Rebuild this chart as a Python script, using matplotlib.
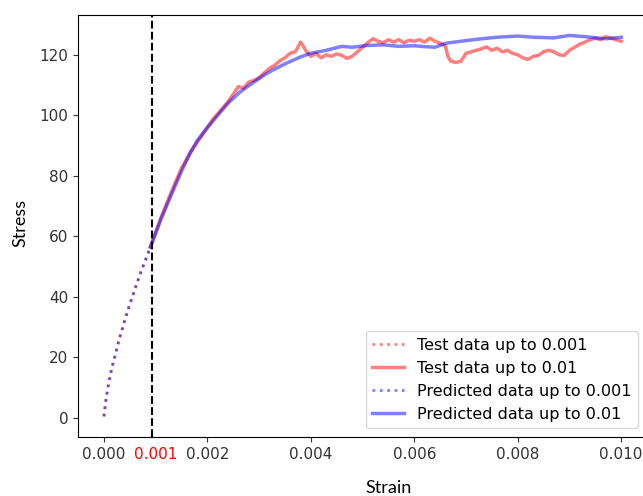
import numpy as np
import matplotlib.pyplot as plt

# dotted part: strain 0 .. 0.001
early_strain = [0, 0.00005, 0.0001, 0.00015, 0.0002, 0.0003, 0.0004, 0.0005,
                0.0006, 0.0007, 0.0008, 0.0009]
early_test = [0.5, 7.5, 12.0, 16.5, 19.5, 26.5, 32.0, 37.5, 42.5, 47.5, 52.0, 56.5]
early_pred = [0.5, 7.0, 12.0, 16.0, 19.5, 26.0, 32.0, 37.5, 42.5, 47.5, 52.0, 56.5]

# solid part: test data up to 0.01
test_strain = [0.0009, 0.0011, 0.0013, 0.0015, 0.0017, 0.0019, 0.0021, 0.0023,
               0.0024, 0.0025, 0.0026, 0.0027, 0.0028, 0.0029, 0.0030, 0.0031,
               0.0032, 0.0033, 0.0034, 0.0035, 0.0036, 0.0037, 0.00375, 0.0038,
               0.00385, 0.0039, 0.00395, 0.0040, 0.0041, 0.0042, 0.0043, 0.0044,
               0.0045, 0.0046, 0.0047, 0.0048, 0.0049, 0.0050, 0.0051, 0.0052,
               0.0053, 0.0054, 0.0055, 0.0056, 0.0057, 0.0058, 0.0059, 0.0060,
               0.0061, 0.0062, 0.0063, 0.0064, 0.0065, 0.0066, 0.00665, 0.0067,
               0.0068, 0.0069, 0.0070, 0.0071, 0.0072, 0.0073, 0.0074, 0.0075,
               0.0076, 0.0077, 0.0078, 0.0079, 0.0080, 0.0081, 0.0082, 0.0083,
               0.0084, 0.0085, 0.0086, 0.0087, 0.0088, 0.0089, 0.0090, 0.0091,
               0.0092, 0.0093, 0.0094, 0.0095, 0.0096, 0.0097, 0.0098, 0.0099,
               0.0100]
test_stress = [56.5, 66.0, 74.5, 82.5, 88.5, 93.5, 98.5, 102.5,
               104.5, 107.0, 109.5, 109.0, 111.0, 111.5, 112.5, 114.0,
               115.5, 116.5, 118.0, 119.0, 120.5, 121.0, 122.5, 124.2,
               123.0, 121.5, 120.5, 119.5, 120.5, 119.0, 120.0, 119.5,
               120.3, 119.8, 118.8, 119.5, 121.0, 122.5, 124.0, 125.3,
               124.5, 124.0, 125.0, 124.2, 125.0, 124.0, 124.8, 124.5,
               125.0, 124.2, 125.5, 124.5, 123.8, 123.0, 119.5, 118.0,
               117.5, 117.8, 120.5, 121.0, 121.5, 122.0, 122.6, 121.5,
               122.2, 121.0, 121.5, 120.5, 120.0, 119.0, 118.5, 119.5,
               119.8, 121.0, 121.5, 121.0, 120.0, 119.8, 121.5, 122.5,
               123.5, 124.2, 125.0, 125.5, 125.0, 126.0, 125.5, 125.0,
               124.5]

# solid part: predicted data up to 0.01
pred_strain = [0.0009, 0.0011, 0.00134, 0.0015, 0.00166, 0.0018, 0.00198, 0.0022,
               0.0024, 0.00263, 0.0029, 0.0031, 0.00327, 0.0035, 0.0038, 0.0040,
               0.0043, 0.0046, 0.0048, 0.0051, 0.0054, 0.0057, 0.0060, 0.0062,
               0.0064, 0.0066, 0.0070, 0.0073, 0.0076, 0.0080, 0.0083, 0.0087,
               0.0090, 0.0093, 0.0097, 0.0100]
pred_stress = [56.5, 65.5, 75.2, 81.5, 87.3, 91.5, 95.5, 100.0,
               104.0, 107.7, 111.0, 113.3, 115.0, 117.0, 119.3, 120.5,
               121.5, 122.8, 122.5, 123.1, 123.3, 122.8, 123.0, 122.7,
               122.5, 123.8, 124.7, 125.3, 125.8, 126.2, 125.8, 125.6,
               126.4, 126.0, 125.3, 125.8]

xticks = [0, 0.002, 0.004, 0.006, 0.008, 0.010]
xtick_labels = ['0.000', '0.002', '0.004', '0.006', '0.008', '0.010']
yticks = [0, 20, 40, 60, 80, 100, 120]
vline_x = 0.00093

fig = plt.figure(figsize=(6.43, 4.96), dpi=100)
ax = fig.add_axes([0.1213, 0.119, 0.885, 0.851])

ax.plot(early_strain, early_test, color='red', alpha=0.5, lw=2, ls=':', label='Test data up to 0.001')
ax.plot(test_strain, test_stress, color='red', alpha=0.5, lw=2.5, label='Test data up to 0.01')
ax.plot(early_strain, early_pred, color='blue', alpha=0.5, lw=2, ls=':', label='Predicted data up to 0.001')
ax.plot(pred_strain, pred_stress, color='blue', alpha=0.5, lw=2.5, label='Predicted data up to 0.01')
ax.axvline(vline_x, color='black', ls='--', lw=1.5)

ax.set_xlim(-0.0005, 0.0105)
ax.set_ylim(-6.3, 133.2)
ax.set_xticks(xticks)
ax.set_xticklabels(xtick_labels)
ax.set_yticks(yticks)
# red label for the 0.001 cut-off, as a minor tick without a mark
ax.set_xticks([0.001], minor=True)
ax.set_xticklabels(['0.001'], minor=True)
ax.tick_params(labelsize=11, colors='#333333', labelcolor='#333333')
ax.tick_params(axis='x', which='minor', length=0, pad=7.0, labelcolor='red', labelsize=11)

ax.legend(loc='lower right', fontsize=11.5, bbox_to_anchor=(638 / 643, 68 / 496),
          bbox_transform=fig.transFigure, borderaxespad=0)

fig.text(389 / 643, 1 - 488 / 496, 'Strain', fontsize=13, family='Lato', ha='center', va='center')
fig.text(20 / 643, 1 - 223 / 496, 'Stress', fontsize=13, family='Lato', rotation=90,
         ha='center', va='center')

fig.savefig('out.png', dpi=100)
